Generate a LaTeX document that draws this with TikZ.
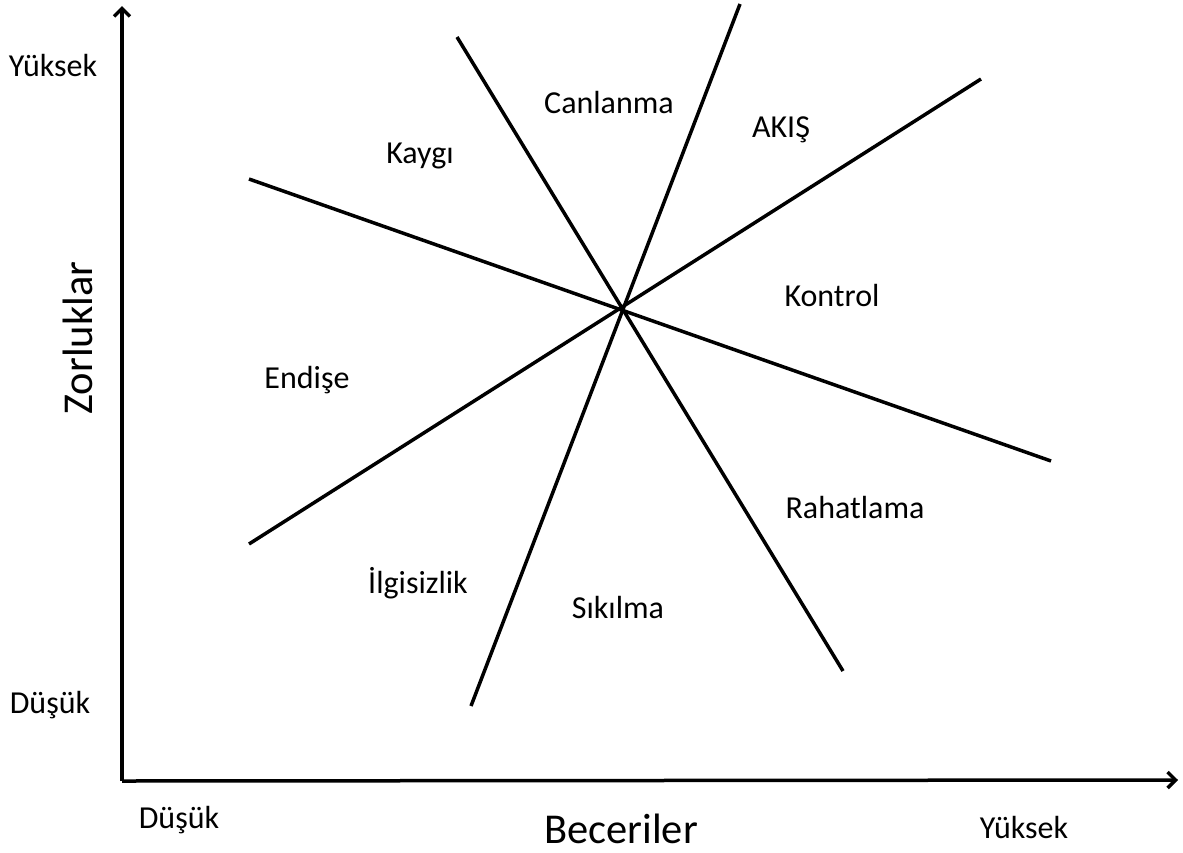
\documentclass[tikz,border=0pt]{standalone}
\usepackage{fontspec}
\setmainfont{Carlito}
\usetikzlibrary{arrows.meta}
\begin{document}
\begin{tikzpicture}[x=1pt,y=-1pt,
  axis/.style={line width=3.5pt,-{Straight Barb[length=8pt,width=16pt,line width=3.5pt]}},
  ray/.style={line width=3.5pt},
  zone/.style={anchor=base,inner sep=0pt,font=\fontsize{32}{37}\selectfont},
  level/.style={anchor=base,inner sep=0pt,font=\fontsize{32}{37}\selectfont},
  title/.style={anchor=base,inner sep=0pt,font=\fontsize{42.5}{48}\selectfont}]
\useasboundingbox (0,0) rectangle (1183,852);

% axes
\coordinate (o) at (122,781);
\coordinate (ytop) at (122,6);
\coordinate (xend) at (1178,780);
\draw[axis] (o) -- (ytop);
\draw[axis] (o) -- (xend);

% rays through the common centre
\coordinate (a1) at (249,179);  \coordinate (b1) at (1051,461);
\coordinate (a2) at (249,544);  \coordinate (b2) at (981,79);
\coordinate (a3) at (457,37);   \coordinate (b3) at (843,671);
\coordinate (a4) at (471,706);  \coordinate (b4) at (740,4);
\draw[ray] (a1) -- (b1);
\draw[ray] (a2) -- (b2);
\draw[ray] (a3) -- (b3);
\draw[ray] (a4) -- (b4);

% axis labels
\node[level] (yhigh) at (53,76) {Yüksek};
\node[level] (ylow) at (50,713) {Düşük};
\node[level] (xlow) at (179,828) {Düşük};
\node[level] (xhigh) at (1024,838) {Yüksek};
\node[title] (xtitle) at (621,843) {Beceriler};
\node[title,rotate=90] (ytitle) at (92,338) {Zorluklar};

% zone labels
\node[zone] (canlanma) at (609,113) {Canlanma};
\node[zone] (akis) at (781,137) {AKIŞ};
\node[zone] (kaygi) at (420,163) {Kaygı};
\node[zone] (kontrol) at (832,306) {Kontrol};
\node[zone] (endise) at (307,388) {Endişe};
\node[zone] (rahatlama) at (855,518) {Rahatlama};
\node[zone] (ilgisizlik) at (418,593) {İlgisizlik};
\node[zone] (sikilma) at (618,618) {Sıkılma};
\end{tikzpicture}
\end{document}
